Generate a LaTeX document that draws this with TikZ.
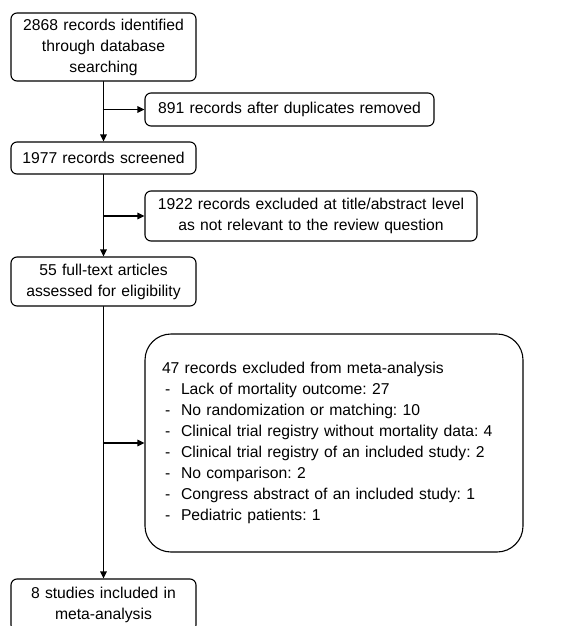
\documentclass[tikz,border=0pt]{standalone}
\usepackage{fontspec}
\setmainfont{Liberation Sans}
\usetikzlibrary{arrows.meta}
\frenchspacing

\begin{document}
\begin{tikzpicture}[x=1pt,y=-1pt,line cap=round,line join=round,>={Triangle[length=7pt,width=6.5pt]},
    recbox/.style={draw,line width=1.1pt,rounded corners=6pt,align=center,inner sep=0pt,
      font=\fontsize{15.7}{21}\selectfont,text width=#1},
    recbox/.default=180pt,
    flow/.style={line width=1.1pt}]
      \useasboundingbox (0,0) rectangle (584,626);
      \node[recbox,minimum width=185pt,minimum height=68pt] (ident) at (103.5,47) {2868 records identified\\ through database\\ searching};
      \node[recbox=285pt,minimum width=289pt,minimum height=33pt] (dupl) at (289.5,109.5) {891 records after duplicates removed};
      \node[recbox,minimum width=185pt,minimum height=32pt] (screen) at (103.5,158) {1977 records screened};
      \node[recbox=328pt,minimum width=332pt,minimum height=50pt] (title) at (311,216) {1922 records excluded at title/abstract level\\ as not relevant to the review question};
      \node[recbox,minimum width=185pt,minimum height=49pt] (full) at (103.5,281.5) {55 full-text articles\\ assessed for eligibility};
      \node[recbox=344pt,align=left,rounded corners=26pt,minimum width=378pt,minimum height=218pt] (meta) at (334,443) {47 records excluded from meta-analysis\\
        \makebox[19pt][l]{\hspace{3pt}-}Lack of mortality outcome: 27\\
        \makebox[19pt][l]{\hspace{3pt}-}No randomization or matching: 10\\
        \makebox[19pt][l]{\hspace{3pt}-}Clinical trial registry without mortality data: 4\\
        \makebox[19pt][l]{\hspace{3pt}-}Clinical trial registry of an included study: 2\\
        \makebox[19pt][l]{\hspace{3pt}-}No comparison: 2\\
        \makebox[19pt][l]{\hspace{3pt}-}Congress abstract of an included study: 1\\
        \makebox[19pt][l]{\hspace{3pt}-}Pediatric patients: 1};
      \node[recbox,minimum width=185pt,minimum height=52pt] (incl) at (103.5,605) {8 studies included in\\ meta-analysis};
      % main line with side branches
      \coordinate (b1) at (ident.south |- dupl.west);
      \coordinate (b2) at (screen.south |- title.west);
      \coordinate (b3) at (full.south |- meta.west);
      \draw[flow,->] (ident) -- (screen);
      \draw[flow,->] (screen) -- (full);
      \draw[flow,->] (full) -- (incl);
      \draw[flow,->] (b1) -- (dupl);
      \draw[flow,->] (b2) -- (title);
      \draw[flow,->] (b3) -- (meta);
\end{tikzpicture}
\end{document}
